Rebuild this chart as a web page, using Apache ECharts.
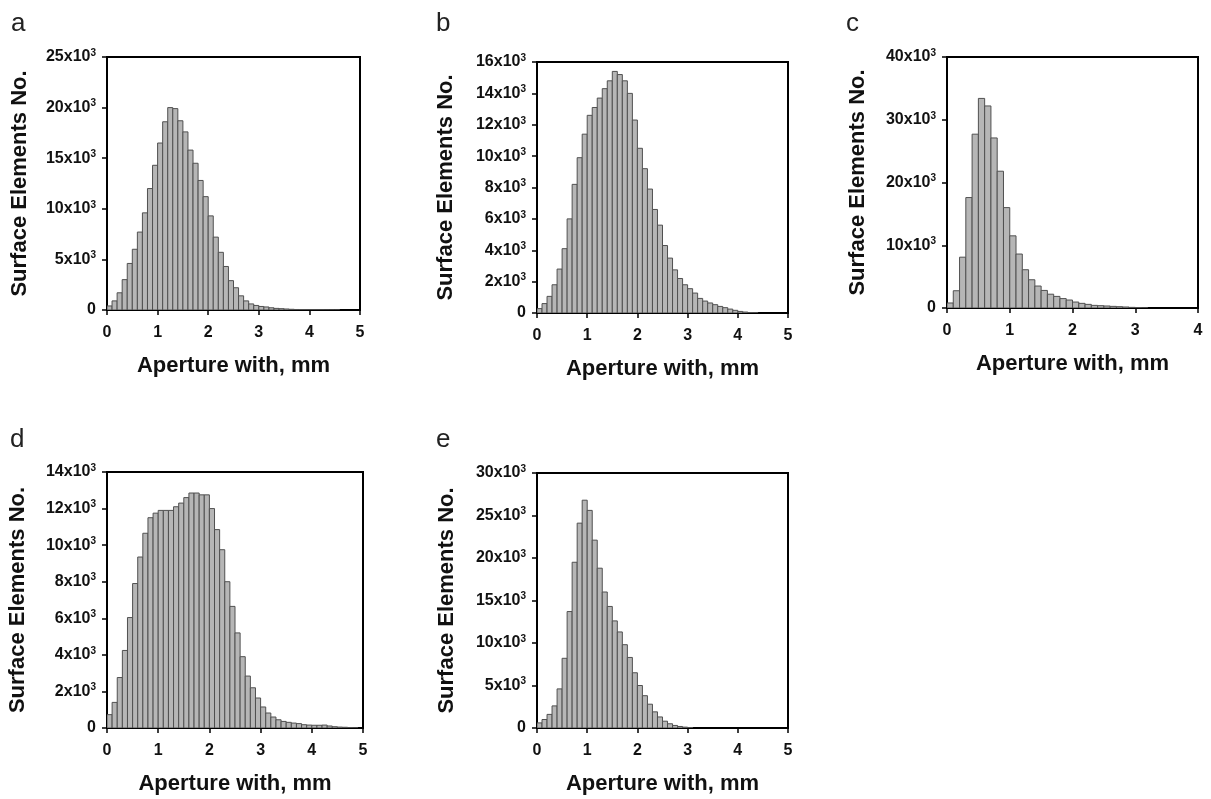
<!DOCTYPE html>
<html>
<head>
<meta charset="utf-8">
<script src="https://cdn.jsdelivr.net/npm/echarts@6/dist/echarts.min.js"></script>
<style>html,body{margin:0;padding:0;background:#fff}#c{width:1211px;height:799px}</style>
</head>
<body>
<div id="c"></div>
<script>
// Bin width of histogram (mm)
const BIN = 0.1;
// Panel letters
const panelLetters = ['a', 'b', 'c', 'd', 'e'];
const xTitle = 'Aperture with, mm';
const yTitle = 'Surface Elements No.';
// Axis ranges
const xMax = [5, 5, 4, 5, 5];
const yMax = [25000, 16000, 40000, 14000, 30000];
const yStep = [5000, 2000, 10000, 2000, 5000];

// Counts per 0.1 mm bin
const countsA = [400, 900, 1700, 3000, 4600, 6000, 7700, 9600, 12000, 14300, 16500, 18600, 20000, 19900, 18700, 17600, 15800, 14500, 12800, 11200, 9300, 7200, 5700, 4300, 2900, 2200, 1400, 900, 600, 450, 350, 300, 220, 160, 130, 100, 70, 50, 40, 30, 25, 20, 15, 10, 8, 5, 0, 0, 0, 0];
const countsB = [280, 600, 1060, 1800, 2800, 4100, 6000, 8200, 9900, 11400, 12600, 13100, 13700, 14300, 14800, 15400, 15200, 14800, 14000, 12300, 10500, 9200, 7900, 6600, 5600, 4300, 3500, 2750, 2200, 1800, 1550, 1270, 930, 760, 640, 530, 420, 340, 250, 170, 100, 60, 30, 15, 0, 0, 0, 0, 0, 0];
const countsC = [800, 2750, 8100, 17600, 27700, 33400, 32200, 27100, 21800, 16000, 11500, 8600, 6100, 4500, 3500, 2800, 2200, 1850, 1500, 1270, 950, 740, 580, 420, 370, 320, 260, 210, 160, 100, 50, 20, 0, 0, 0, 0, 0, 0, 0, 0];
const countsD = [730, 1400, 2760, 4240, 6040, 7900, 9350, 10650, 11500, 11750, 11900, 11900, 11900, 12100, 12300, 12600, 12850, 12850, 12750, 12750, 12000, 10850, 9750, 8000, 6650, 5200, 3900, 2840, 2200, 1640, 1150, 820, 600, 450, 360, 310, 270, 240, 180, 160, 150, 150, 160, 110, 70, 50, 40, 20, 10, 0];
const countsE = [600, 1000, 1600, 2600, 4600, 8200, 13700, 19500, 24100, 26800, 25600, 22100, 18800, 16000, 14300, 12600, 11300, 9800, 8300, 6500, 5000, 3800, 2800, 1900, 1300, 800, 500, 300, 180, 100, 50, 0, 0, 0, 0, 0, 0, 0, 0, 0, 0, 0, 0, 0, 0, 0, 0, 0, 0, 0];
const allCounts = [countsA, countsB, countsC, countsD, countsE];

// Layout (pixels)
const grids = [
  {left: 107, top: 57, width: 253, height: 253},
  {left: 537, top: 62, width: 251, height: 251},
  {left: 947, top: 57, width: 251, height: 251},
  {left: 107, top: 472, width: 256, height: 256},
  {left: 537, top: 473, width: 251, height: 255}
];
const yNameGap = [76, 80, 78, 78, 79];
const letterPos = [[6, 6], [431, 6], [841, 6], [5, 422], [431, 422]];

const FONT = '"Liberation Sans", Arial, sans-serif';

function renderBar(params, api) {
  const x0 = api.value(0), y = api.value(1);
  if (!y) return null;
  const p1 = api.coord([x0, y]);
  const p2 = api.coord([x0 + BIN, 0]);
  return {
    type: 'rect',
    shape: {x: p1[0], y: p1[1], width: p2[0] - p1[0], height: p2[1] - p1[1]},
    style: {fill: '#b6b6b6', stroke: '#505050', lineWidth: 1}
  };
}

const option = {
  backgroundColor: '#fff',
  animation: false,
  title: panelLetters.map((t, i) => ({
    text: t, left: letterPos[i][0], top: letterPos[i][1],
    textStyle: {fontFamily: FONT, fontWeight: 'normal', fontSize: 26, color: '#222'}
  })),
  grid: grids.map(g => Object.assign({show: true, borderColor: '#000', borderWidth: 2, backgroundColor: '#fff'}, g)),
  xAxis: grids.map((g, i) => ({
    type: 'value', gridIndex: i, min: 0, max: xMax[i], interval: 1,
    name: xTitle, nameLocation: 'middle', nameGap: 45,
    nameTextStyle: {fontFamily: FONT, fontWeight: 'bold', fontSize: 22, color: '#111'},
    axisLine: {show: true, onZero: false, lineStyle: {color: '#000', width: 2}},
    axisTick: {show: true, inside: false, length: 5, lineStyle: {color: '#000', width: 1.5}},
    axisLabel: {fontFamily: FONT, fontWeight: 'bold', fontSize: 16, color: '#111', margin: 15},
    splitLine: {show: false}
  })),
  yAxis: grids.map((g, i) => ({
    type: 'value', gridIndex: i, min: 0, max: yMax[i], interval: yStep[i],
    name: yTitle, nameLocation: 'middle', nameGap: yNameGap[i],
    nameTextStyle: {fontFamily: FONT, fontWeight: 'bold', fontSize: 22, color: '#111'},
    axisLine: {show: true, lineStyle: {color: '#000', width: 2}},
    axisTick: {show: true, inside: false, length: 5, lineStyle: {color: '#000', width: 1.5}},
    axisLabel: {
      fontFamily: FONT, fontWeight: 'bold', fontSize: 16, color: '#111', margin: 11,
      formatter: v => v === 0 ? '{m|0}' : '{m|' + (v / 1000) + 'x10}{s|3}',
      rich: {
        m: {fontFamily: FONT, fontWeight: 'bold', fontSize: 16, color: '#111', lineHeight: 18},
        s: {fontFamily: FONT, fontWeight: 'bold', fontSize: 10, color: '#111', verticalAlign: 'top', lineHeight: 12}
      }
    },
    splitLine: {show: false}
  })),
  series: allCounts.map((arr, i) => ({
    type: 'custom', xAxisIndex: i, yAxisIndex: i,
    renderItem: renderBar, clip: true,
    encode: {x: 0, y: 1},
    data: arr.map((c, k) => [k * BIN, c])
  }))
};

const chart = echarts.init(document.getElementById('c'), null, {renderer: 'canvas'});
chart.setOption(option);
</script>
</body>
</html>
